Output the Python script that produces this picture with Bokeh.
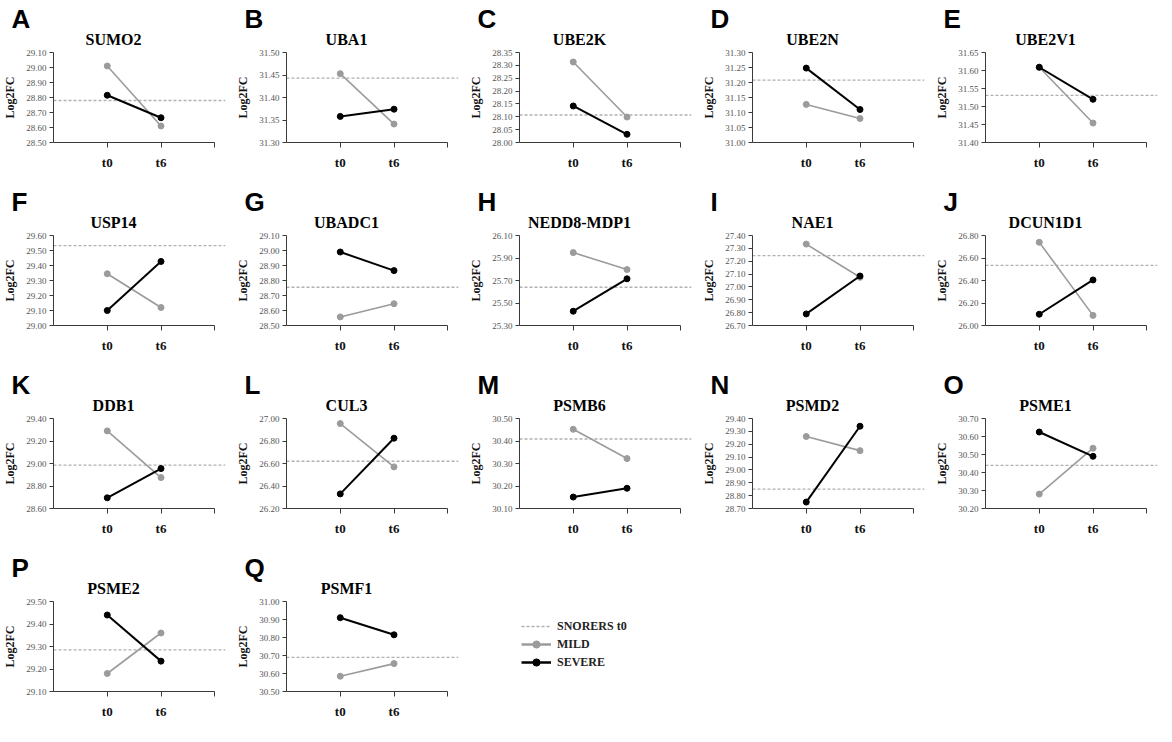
from bokeh.plotting import figure
from bokeh.layouts import gridplot
from bokeh.models import (Range1d, FixedTicker, NumeralTickFormatter, Span, Title,
                          Legend, LegendItem)
from bokeh.embed import file_html
from bokeh.resources import INLINE

# ---------------- data ----------------
letters = ["A", "B", "C", "D", "E", "F", "G", "H", "I", "J", "K", "L", "M", "N", "O", "P", "Q"]
genes = ["SUMO2", "UBA1", "UBE2K", "UBE2N", "UBE2V1", "USP14", "UBADC1", "NEDD8-MDP1", "NAE1",
         "DCUN1D1", "DDB1", "CUL3", "PSMB6", "PSMD2", "PSME1", "PSME2", "PSMF1"]
timepoints = ["t0", "t6"]

y_low = [28.50, 31.30, 28.00, 31.00, 31.40, 29.00, 28.50, 25.30, 26.70,
         26.00, 28.60, 26.20, 30.10, 28.70, 30.20, 29.10, 30.50]
y_high = [29.10, 31.50, 28.35, 31.30, 31.65, 29.60, 29.10, 26.10, 27.40,
          26.80, 29.40, 27.00, 30.50, 29.40, 30.70, 29.50, 31.00]
y_step = [0.10, 0.05, 0.05, 0.05, 0.05, 0.10, 0.10, 0.20, 0.10,
          0.20, 0.20, 0.20, 0.10, 0.10, 0.10, 0.10, 0.10]

snorers_t0 = [28.78, 31.443, 28.107, 31.208, 31.531, 29.533, 28.755, 25.64, 27.243,
              26.534, 28.985, 26.62, 30.409, 28.85, 30.44, 29.285, 30.69]
mild_t0 = [29.01, 31.453, 28.313, 31.127, 31.609, 29.345, 28.557, 25.948, 27.333,
           26.74, 29.29, 26.955, 30.452, 29.26, 30.28, 29.18, 30.585]
mild_t6 = [28.61, 31.341, 28.099, 31.08, 31.454, 29.12, 28.645, 25.797, 27.075,
           26.09, 28.875, 26.57, 30.322, 29.15, 30.535, 29.36, 30.655]
severe_t0 = [28.815, 31.358, 28.142, 31.248, 31.609, 29.10, 28.99, 25.427, 26.79,
             26.10, 28.695, 26.33, 30.151, 28.75, 30.625, 29.44, 30.91]
severe_t6 = [28.665, 31.374, 28.032, 31.11, 31.52, 29.427, 28.866, 25.715, 27.085,
             26.405, 28.955, 26.825, 30.19, 29.34, 30.49, 29.235, 30.815]

legend_labels = ["SNORERS t0", "MILD", "SEVERE"]

# ---------------- style ----------------
SERIF = "Liberation Serif"
SANS = "Liberation Sans"
MILD_COLOR = "#9b9b9b"
SEVERE_COLOR = "#000000"
SNORER_COLOR = "#b0b0b0"
AXIS_COLOR = "#3a3a3a"

FW, FH = 172, 90
BL, BR, BT, BB = 52, 8, 52, 41
TITLE_SIZE = 16
TITLE_CENTER = 60  # px right of the y axis

# approximate advance widths (per 1000 em) of a bold Times-like serif
_W = {"A": 722, "B": 667, "C": 722, "D": 722, "E": 667, "F": 611, "G": 778, "H": 778, "I": 389,
      "J": 500, "K": 778, "L": 667, "M": 944, "N": 722, "O": 778, "P": 611, "Q": 778, "R": 722,
      "S": 556, "T": 667, "U": 722, "V": 722, "W": 1000, "X": 722, "Y": 722, "Z": 667, "-": 333}


def text_width(s, size):
    return sum(_W.get(c, 500) for c in s) / 1000.0 * size


def make_panel(i):
    n = len(timepoints)
    xs = [k + 1 for k in range(n)]
    p = figure(frame_width=FW, frame_height=FH,
               min_border_left=BL, min_border_right=BR, min_border_top=BT, min_border_bottom=BB,
               x_range=Range1d(0, n + 1.2), y_range=Range1d(y_low[i], y_high[i]),
               toolbar_location=None, tools="", output_backend="svg")
    p.xgrid.visible = False
    p.ygrid.visible = False
    p.outline_line_color = None
    p.background_fill_color = "white"
    p.border_fill_color = "white"

    # y axis
    nt = int(round((y_high[i] - y_low[i]) / y_step[i]))
    yt = [round(y_low[i] + k * y_step[i], 3) for k in range(nt + 1)]
    p.yaxis.ticker = FixedTicker(ticks=yt)
    p.yaxis.formatter = NumeralTickFormatter(format="0.00")
    p.yaxis.axis_label = "Log2FC"
    p.yaxis.axis_label_text_font = SERIF
    p.yaxis.axis_label_text_font_style = "bold"
    p.yaxis.axis_label_text_font_size = "12px"
    p.yaxis.axis_label_text_color = "#111111"
    p.yaxis.axis_label_standoff = 6
    p.yaxis.major_label_text_font = SERIF
    p.yaxis.major_label_text_font_size = "9px"
    p.yaxis.major_label_text_color = "#555555"
    p.yaxis.major_label_standoff = 3
    p.yaxis.major_tick_out = 4
    p.yaxis.major_tick_in = 0
    p.yaxis.minor_tick_line_color = None

    # x axis
    ticks = [k + 1 for k in range(n + 1)]
    overrides = {k + 1: t for k, t in enumerate(timepoints)}
    overrides[n + 1] = ""
    p.xaxis.ticker = FixedTicker(ticks=ticks)
    p.xaxis.major_label_overrides = overrides
    p.xaxis.bounds = (0, n + 1)
    p.xaxis.major_label_text_font = SERIF
    p.xaxis.major_label_text_font_style = "bold"
    p.xaxis.major_label_text_font_size = "13px"
    p.xaxis.major_label_text_color = "#111111"
    p.xaxis.major_label_standoff = 7
    p.xaxis.major_tick_out = 5
    p.xaxis.major_tick_in = 0
    p.xaxis.minor_tick_line_color = None

    for ax in (p.xaxis, p.yaxis):
        ax.axis_line_color = AXIS_COLOR
        ax.major_tick_line_color = AXIS_COLOR

    # reference line (snorers at t0)
    p.add_layout(Span(location=snorers_t0[i], dimension="width", line_color=SNORER_COLOR,
                      line_dash="3 2", line_width=1.3, level="underlay"))

    # mild
    p.line(xs, [mild_t0[i], mild_t6[i]], line_color=MILD_COLOR, line_width=1.6)
    p.scatter(xs, [mild_t0[i], mild_t6[i]], size=6, fill_color=MILD_COLOR, line_color=MILD_COLOR)
    # severe
    p.line(xs, [severe_t0[i], severe_t6[i]], line_color=SEVERE_COLOR, line_width=2)
    p.scatter(xs, [severe_t0[i], severe_t6[i]], size=6, fill_color=SEVERE_COLOR, line_color=SEVERE_COLOR)

    # gene title (closest to the frame), then the panel letter above it
    off = TITLE_CENTER - text_width(genes[i], TITLE_SIZE) / 2.0
    p.add_layout(Title(text=genes[i], align="left", offset=off, standoff=10,
                       text_font=SERIF, text_font_style="bold",
                       text_font_size=f"{TITLE_SIZE}px", text_color="#000000"), "above")
    p.add_layout(Title(text=letters[i], align="left", offset=-42, standoff=-20,
                       text_font=SANS, text_font_style="bold", text_font_size="26px",
                       text_color="#000000"), "above")
    return p


panels = [make_panel(i) for i in range(len(genes))]

# legend figure: same geometry as the panels so that the grid row stays aligned
lf = figure(frame_width=FW, frame_height=FH, min_border_left=BL, min_border_top=BT,
            min_border_right=BR, min_border_bottom=BB,
            x_range=Range1d(0, 1), y_range=Range1d(0, 1),
            toolbar_location=None, tools="", output_backend="svg")
lf.axis.visible = False
lf.xgrid.visible = False
lf.ygrid.visible = False
lf.outline_line_color = None
hidden = dict(x=[-10, -9], y=[-10, -9])
r_sn = lf.line(line_color=SNORER_COLOR, line_dash="3 2", line_width=1.3, **hidden)
r_ml = lf.line(line_color=MILD_COLOR, line_width=2.5, **hidden)
r_ms = lf.scatter(size=9, fill_color=MILD_COLOR, line_color=MILD_COLOR, **hidden)
r_sl = lf.line(line_color=SEVERE_COLOR, line_width=2.5, **hidden)
r_ss = lf.scatter(size=9, fill_color=SEVERE_COLOR, line_color=SEVERE_COLOR, **hidden)
legend = Legend(items=[LegendItem(label=legend_labels[0], renderers=[r_sn]),
                       LegendItem(label=legend_labels[1], renderers=[r_ml, r_ms]),
                       LegendItem(label=legend_labels[2], renderers=[r_sl, r_ss])],
                location=(0, 18), padding=2, spacing=0, margin=0,
                glyph_width=30, glyph_height=18, label_height=18, label_standoff=6,
                label_text_font=SERIF, label_text_font_style="bold", label_text_font_size="12px",
                label_text_color="#222222", background_fill_alpha=0, border_line_alpha=0)
lf.add_layout(legend)

rows = [panels[0:5], panels[5:10], panels[10:15], [panels[15], panels[16], lf, None, None]]
grid = gridplot(rows, toolbar_location=None)

open("out.html", "w").write(file_html(grid, INLINE))
